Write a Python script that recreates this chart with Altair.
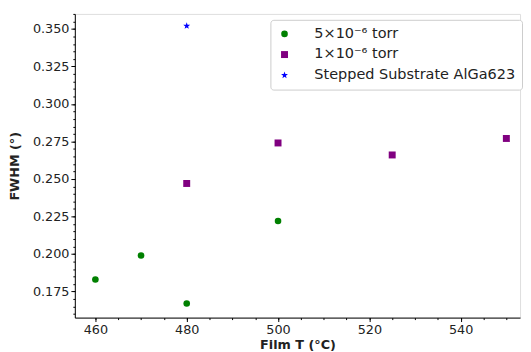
import altair as alt
import pandas as pd

series_names = ["5×10⁻⁶ torr", "1×10⁻⁶ torr", "Stepped Substrate AlGa623"]
series_colors = ["green", "purple", "blue"]
series_shapes = ["circle", "square", "M0,-1L0.235,-0.324L0.951,-0.309L0.38,0.124L0.588,0.809L0,0.4L-0.588,0.809L-0.38,0.124L-0.951,-0.309L-0.235,-0.324Z"]

t_5e6 = [460, 470, 480, 500]
fwhm_5e6 = [0.183, 0.199, 0.167, 0.222]
t_1e6 = [480, 500, 525, 550]
fwhm_1e6 = [0.247, 0.274, 0.266, 0.277]
t_step = [480]
fwhm_step = [0.352]

x_ticks = [460, 480, 500, 520, 540]
x_minor = list(range(460, 555, 5))
y_ticks = [0.175, 0.200, 0.225, 0.250, 0.275, 0.300, 0.325, 0.350]
y_minor = [round(0.160 + 0.005 * i, 3) for i in range(41)]

rows = []
for t, f in zip(t_5e6, fwhm_5e6):
    rows.append({"T": t, "FWHM": f, "series": series_names[0]})
for t, f in zip(t_1e6, fwhm_1e6):
    rows.append({"T": t, "FWHM": f, "series": series_names[1]})
for t, f in zip(t_step, fwhm_step):
    rows.append({"T": t, "FWHM": f, "series": series_names[2]})
df = pd.DataFrame(rows)

xdom = [455.5, 553]
ydom = [0.1576, 0.3600]

font = "DejaVu Sans"

points = alt.Chart(df).mark_point(filled=True, opacity=1).encode(
    x=alt.X("T:Q", scale=alt.Scale(domain=xdom, nice=False, zero=False),
            axis=alt.Axis(values=x_ticks, title="Film T (°C)", grid=False, labelFontSize=13,
                          titleFontSize=13, titleFontWeight="bold", tickSize=4, labelPadding=2,
                          domainColor="black", tickColor="black", labelColor="#222", titleColor="#222",
                          labelFont=font, titleFont=font, titlePadding=2)),
    y=alt.Y("FWHM:Q", scale=alt.Scale(domain=ydom, nice=False, zero=False),
            axis=alt.Axis(values=y_ticks, format=".3f", title="FWHM (°)", grid=False, labelFontSize=13,
                          titleFontSize=13, titleFontWeight="bold", tickSize=4, labelPadding=2,
                          domainColor="black", tickColor="black", labelColor="#222", titleColor="#222",
                          labelFont=font, titleFont=font, titlePadding=11)),
    color=alt.Color("series:N", scale=alt.Scale(domain=series_names, range=series_colors),
                    legend=alt.Legend(title=None, orient="none", legendX=199, legendY=6,
                                      labelFontSize=14.7, labelFont=font, labelColor="#222",
                                      symbolSize=40, rowPadding=5, padding=7, labelLimit=400,
                                      fillColor="white", strokeColor="#ccc", cornerRadius=3,
                                      symbolOpacity=1, labelOffset=23)),
    shape=alt.Shape("series:N", scale=alt.Scale(domain=series_names, range=series_shapes), legend=None),
    size=alt.Size("series:N", scale=alt.Scale(domain=series_names, range=[45, 55, 110]), legend=None),
)

minor_x = alt.Chart(pd.DataFrame({"T": x_minor})).mark_point(opacity=0).encode(
    x=alt.X("T:Q", scale=alt.Scale(domain=xdom, nice=False, zero=False),
            axis=alt.Axis(values=x_minor, labels=False, title=None, domain=False, grid=False,
                          tickSize=2, tickColor="black", orient="bottom")),
)
minor_y = alt.Chart(pd.DataFrame({"FWHM": y_minor})).mark_point(opacity=0).encode(
    y=alt.Y("FWHM:Q", scale=alt.Scale(domain=ydom, nice=False, zero=False),
            axis=alt.Axis(values=y_minor, labels=False, title=None, domain=False, grid=False,
                          tickSize=2, tickColor="black", orient="left")),
)

chart = alt.layer(points, minor_x, minor_y).resolve_axis(x="independent", y="independent").properties(
    width=453, height=309, padding={"left": 0, "top": 0, "right": 0, "bottom": 0}
).configure_view(stroke="#888", strokeWidth=1).configure(background="white")

chart.save("out.html", embed_options={"renderer": "svg", "actions": False})
